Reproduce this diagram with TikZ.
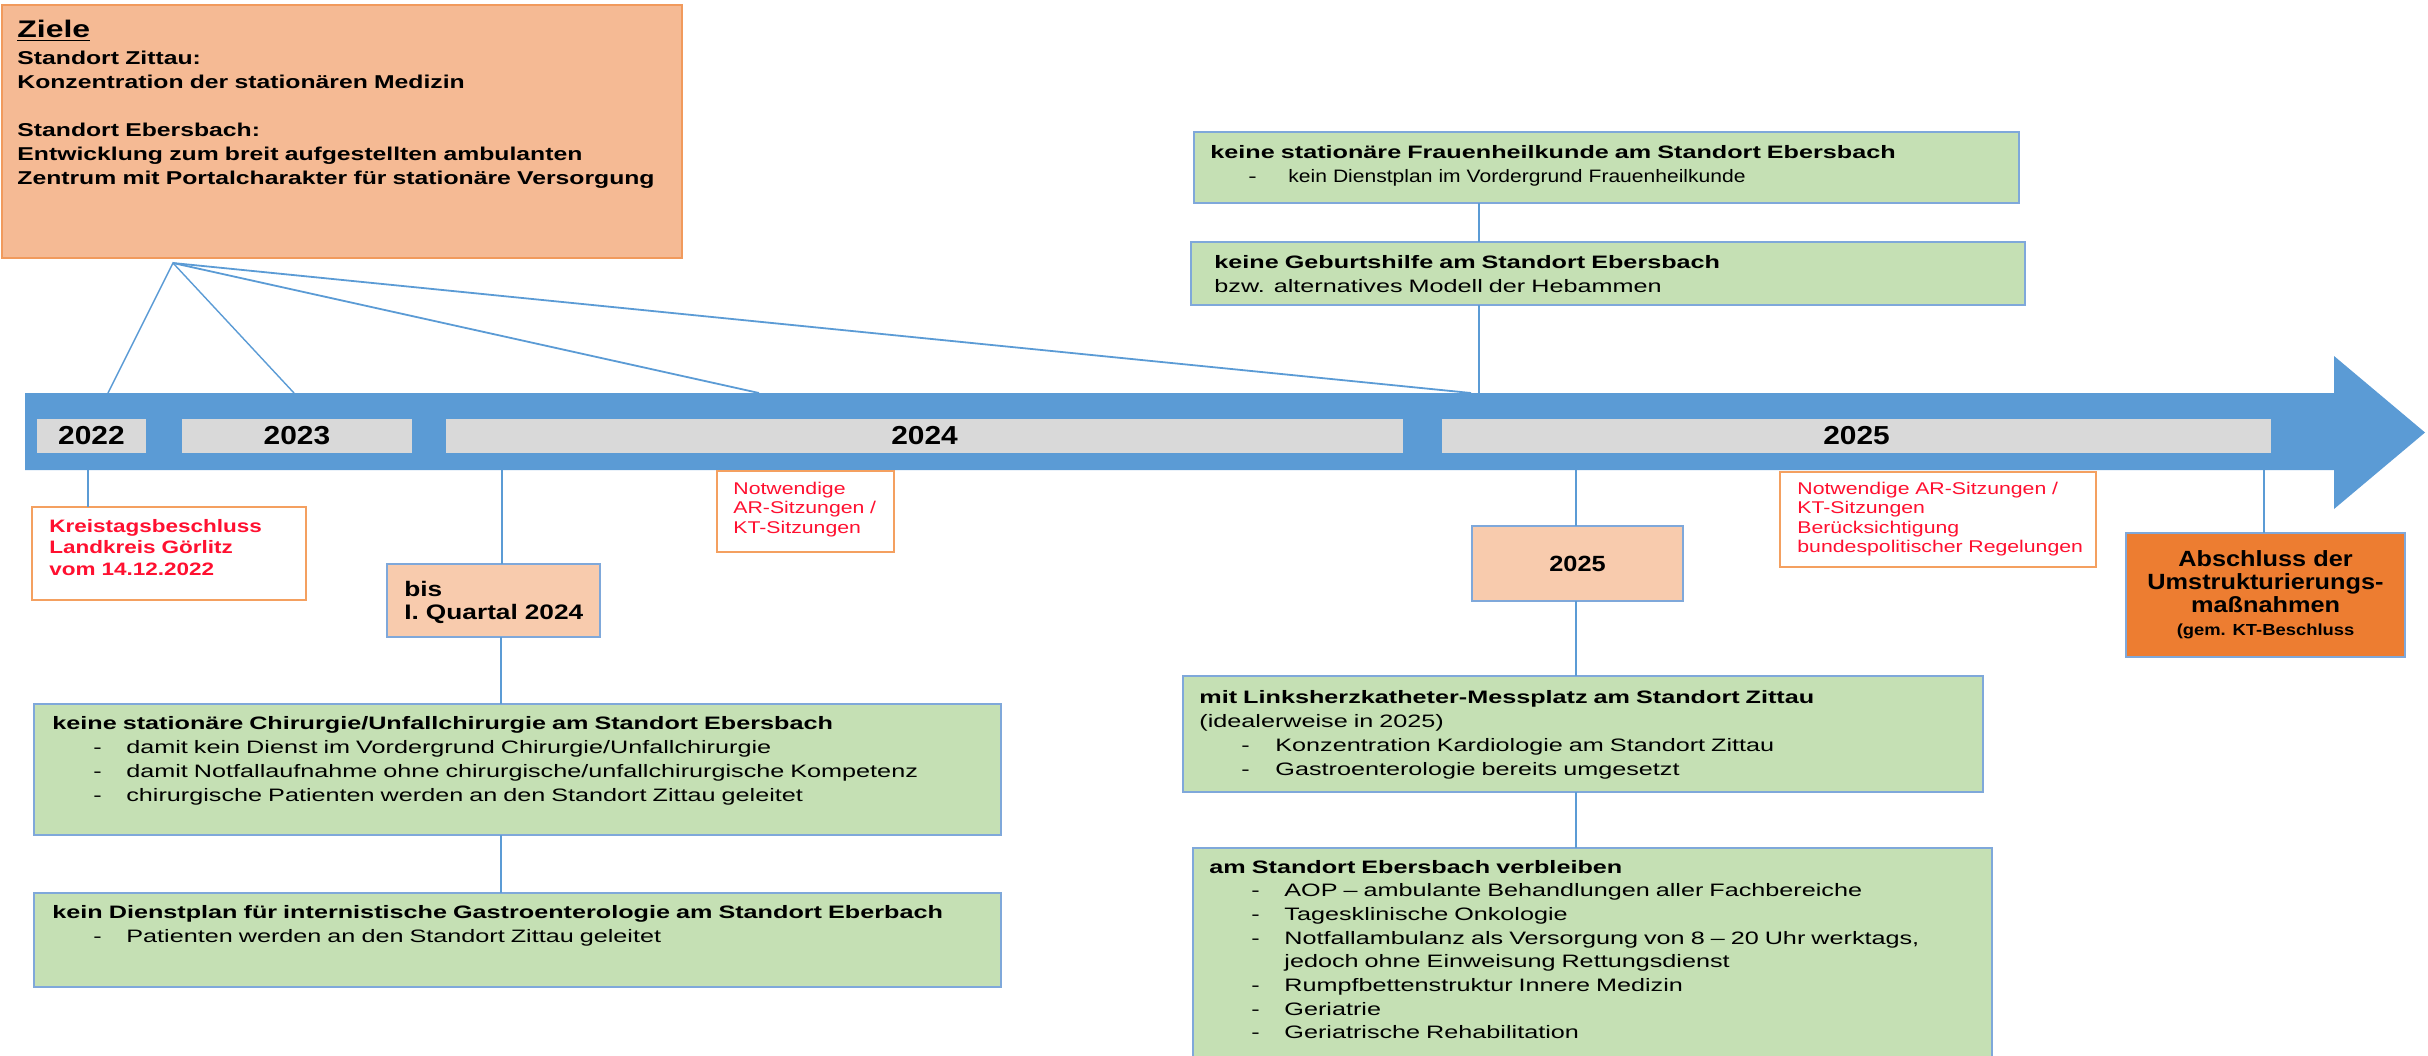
\documentclass[tikz,border=0pt]{standalone}
\usepackage{fontspec}
\setmainfont{Liberation Sans}
\newfontfamily\fgreen[FakeStretch=1.4]{Liberation Sans}
\newfontfamily\fgreenn[FakeStretch=1.17]{Liberation Sans}
\newfontfamily\fziele[FakeStretch=1.33]{Liberation Sans}
\newfontfamily\fred[FakeStretch=1.25]{Liberation Sans}
\newfontfamily\flab[FakeStretch=1.15]{Liberation Sans}
\definecolor{cbar}{HTML}{5B9BD5}
\definecolor{cgray}{HTML}{D9D9D9}
\definecolor{cgreen}{HTML}{C5E0B4}
\definecolor{cboxb}{HTML}{7FA8DA}
\definecolor{cziele}{HTML}{F5BA94}
\definecolor{czieleb}{HTML}{F19A5C}
\definecolor{cpeach}{HTML}{F8CBAD}
\definecolor{corange}{HTML}{ED7D31}
\definecolor{cnoteb}{HTML}{F4A060}
\definecolor{cred}{HTML}{FF1030}
\newcommand\dashitem[3]{\hspace*{#1}\makebox[#2][l]{-}#3}
\begin{document}
\begin{tikzpicture}[x=0.5pt,y=-0.5pt,
  box/.style={draw, rectangle, inner sep=0pt, outer sep=0pt, anchor=north west, line width=0.8pt},
  greenbox/.style={box, fill=cgreen, draw=cboxb},
  peachbox/.style={box, fill=cpeach, draw=cboxb},
  notebox/.style={box, fill=white, draw=cnoteb},
  graybox/.style={rectangle, fill=cgray, inner sep=0pt, minimum height=17pt, font=\flab\bfseries\fontsize{13}{15}\selectfont},
  conn/.style={draw=cbar, line width=0.7pt},
  tx/.style={anchor=base west, inner sep=0pt, align=left, text width=480pt},
  gtx/.style={tx, font=\fgreen\fontsize{9}{12}\selectfont},
  rtx/.style={tx, text=cred, font=\fred\fontsize{8.5}{9.75}\selectfont}
]
\useasboundingbox (0,0) rectangle (2428,1055);

% timeline arrow
\fill[cbar] (25,393) -- (2334,393) -- (2334,356) -- (2425,432.5) -- (2334,509) -- (2334,470) -- (25,470) -- cycle;
\node[graybox, minimum width=54.5pt] (y22) at (91.5,436) {2022};
\node[graybox, minimum width=115pt] (y23) at (297,436) {2023};
\node[graybox, minimum width=478.5pt] (y24) at (924.5,436) {2024};
\node[graybox, minimum width=414.5pt] (y25) at (1856.5,436) {2025};

\coordinate (bartop) at (0,393);
\coordinate (barbot) at (0,470);

% Ziele
\node[box, fill=cziele, draw=czieleb, minimum width=340pt, minimum height=126.5pt] (ziele) at (2,5) {};
\node[tx, font=\fziele\bfseries\fontsize{12}{14}\selectfont] (zt) at (17,37) {\underline{Ziele}};
\node[tx, font=\fziele\bfseries\fontsize{9.3}{12}\selectfont] (zb) at (17,64) {Standort Zittau:\\Konzentration der stationären Medizin\\[12pt]Standort Ebersbach:\\Entwicklung zum breit aufgestellten ambulanten\\Zentrum mit Portalcharakter für stationäre Versorgung};
\coordinate (apex) at (173,263);
\coordinate (t1) at (108,393);
\coordinate (t2) at (294,393);
\coordinate (t3) at (759,393);
\coordinate (t4) at (1471,393);
\draw[conn] (t1) -- (apex) -- (t2);
\draw[conn, line width=0.9pt] (apex) -- (t3);
\draw[conn, line width=0.9pt] (apex) -- (t4);

% top green boxes
\node[greenbox, minimum width=412.5pt, minimum height=35.5pt] (frau) at (1194,132) {};
\node[gtx] (frauT) at (1210,158) {{\bfseries keine stationäre Frauenheilkunde am Standort Ebersbach}\\\dashitem{19pt}{20pt}{\fgreenn kein Dienstplan im Vordergrund Frauenheilkunde}};
\node[greenbox, minimum width=417pt, minimum height=31.5pt] (geb) at (1191,242) {};
\node[gtx] (gebT) at (1214,268) {{\bfseries keine Geburtshilfe am Standort Ebersbach}\\bzw. alternatives Modell der Hebammen};
\coordinate (vx) at (1479,0);
\draw[conn] (frau.south -| vx) -- (geb.north -| vx);
\draw[conn] (geb.south -| vx) -- (bartop -| vx);

% Kreistag
\node[notebox, minimum width=137pt, minimum height=46.5pt] (kreis) at (32,507) {};
\node[tx, text=cred, font=\fred\bfseries\fontsize{9}{10.75}\selectfont] (kreisT) at (49,532) {Kreistagsbeschluss\\Landkreis Görlitz\\vom 14.12.2022};
\coordinate (x22) at (88,0);
\draw[conn] (barbot -| x22) -- (kreis.north -| x22);

% 2024 notes
\node[notebox, minimum width=88.5pt, minimum height=40.5pt] (not1) at (717,471) {};
\node[rtx] (not1T) at (733,494) {Notwendige\\AR-Sitzungen /\\KT-Sitzungen};

% bis box
\node[peachbox, minimum width=106.5pt, minimum height=36.5pt] (bis) at (387,564) {};
\node[tx, font=\fred\bfseries\fontsize{10.5}{11.5}\selectfont] (bisT) at (404,596) {bis\\I. Quartal 2024};
\coordinate (x24) at (502,0);
\draw[conn] (barbot -| x24) -- (bis.north -| x24);

% left green boxes
\node[greenbox, minimum width=483.5pt, minimum height=65.5pt] (chir) at (34,704) {};
\node[gtx] (chirT) at (52,729) {{\bfseries keine stationäre Chirurgie/Unfallchirurgie am Standort Ebersbach}\\
\dashitem{20.5pt}{16.5pt}{damit kein Dienst im Vordergrund Chirurgie/Unfallchirurgie}\\
\dashitem{20.5pt}{16.5pt}{damit Notfallaufnahme ohne chirurgische/unfallchirurgische Kompetenz}\\
\dashitem{20.5pt}{16.5pt}{chirurgische Patienten werden an den Standort Zittau geleitet}};
\node[greenbox, minimum width=483.5pt, minimum height=47pt] (dienst) at (34,893) {};
\node[gtx] (dienstT) at (52,918) {{\bfseries kein Dienstplan für internistische Gastroenterologie am Standort Eberbach}\\
\dashitem{20.5pt}{16.5pt}{Patienten werden an den Standort Zittau geleitet}};
\coordinate (xc) at (501,0);
\draw[conn] (bis.south -| xc) -- (chir.north -| xc);
\draw[conn] (chir.south -| xc) -- (dienst.north -| xc);

% 2025 side
\node[notebox, minimum width=158pt, minimum height=47.5pt] (not2) at (1780,472) {};
\node[rtx] (not2T) at (1797,494) {Notwendige AR-Sitzungen /\\KT-Sitzungen\\Berücksichtigung\\bundespolitischer Regelungen};

\node[peachbox, minimum width=105.5pt, minimum height=37.5pt, font=\flab\bfseries\fontsize{11}{13}\selectfont] (y25b) at (1472,526) {2025};
\coordinate (x25) at (1576,0);
\draw[conn] (barbot -| x25) -- (y25b.north -| x25);

\node[greenbox, minimum width=400pt, minimum height=58pt] (links) at (1183,676) {};
\node[gtx] (linksT) at (1199,703) {{\bfseries mit Linksherzkatheter-Messplatz am Standort Zittau}\\(idealerweise in 2025)\\
\dashitem{21pt}{17pt}{Konzentration Kardiologie am Standort Zittau}\\
\dashitem{21pt}{17pt}{Gastroenterologie bereits umgesetzt}};
\draw[conn] (y25b.south -| x25) -- (links.north -| x25);

\node[greenbox, minimum width=399.5pt, minimum height=111pt] (amst) at (1193,848) {};
\node[gtx, font=\fgreen\fontsize{9}{11.85}\selectfont] (amstT) at (1209,873) {{\bfseries am Standort Ebersbach verbleiben}\\
\dashitem{21pt}{16.5pt}{AOP – ambulante Behandlungen aller Fachbereiche}\\
\dashitem{21pt}{16.5pt}{Tagesklinische Onkologie}\\
\dashitem{21pt}{16.5pt}{Notfallambulanz als Versorgung von 8 – 20 Uhr werktags,}\\
\hspace*{37.5pt}jedoch ohne Einweisung Rettungsdienst\\
\dashitem{21pt}{16.5pt}{Rumpfbettenstruktur Innere Medizin}\\
\dashitem{21pt}{16.5pt}{Geriatrie}\\
\dashitem{21pt}{16.5pt}{Geriatrische Rehabilitation}};
\draw[conn] (links.south -| x25) -- (amst.north -| x25);

% Abschluss
\node[box, fill=corange, draw=cboxb, minimum width=139.5pt, minimum height=62pt, align=center, font=\flab\bfseries\fontsize{11}{11.5}\selectfont] (absch) at (2126,533) {Abschluss der\\Umstrukturierungs-\\maßnahmen\\{\fontsize{8}{11}\selectfont (gem. KT-Beschluss}};
\coordinate (xab) at (2264,0);
\draw[conn] (barbot -| xab) -- (absch.north -| xab);
\end{tikzpicture}
\end{document}
